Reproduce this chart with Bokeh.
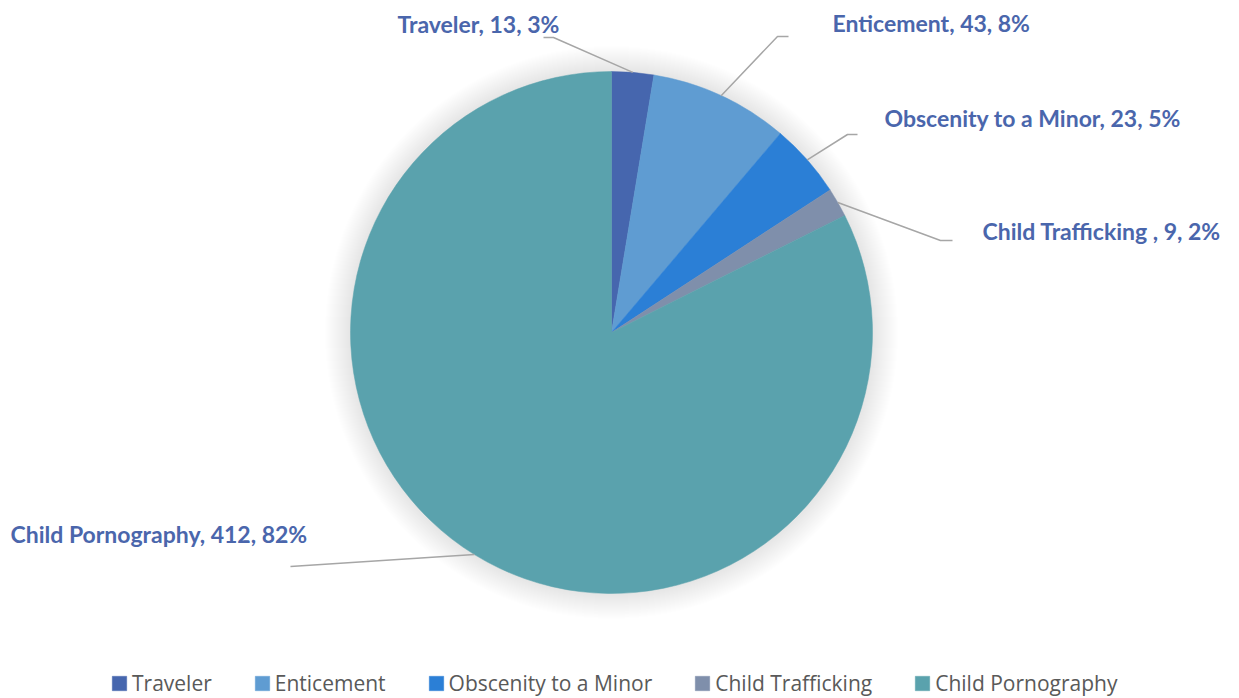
import numpy as np
from bokeh.plotting import figure
from bokeh.models import ColumnDataSource, Legend, LegendItem, Range1d
from bokeh.core.properties import value
from bokeh.embed import file_html
from bokeh.resources import INLINE

# ---- data ----
categories = ["Traveler", "Enticement", "Obscenity to a Minor", "Child Trafficking", "Child Pornography"]
label_names = ["Traveler", "Enticement", "Obscenity to a Minor", "Child Trafficking ", "Child Pornography"]
counts = [13, 43, 23, 9, 412]
percents = [3, 8, 5, 2, 82]
colors = ["#4666ae", "#5f9cd2", "#2b7fd6", "#7f8fab", "#5aa2ad"]

# ---- layout (reference pixel coordinates) ----
W, H = 1239, 698
def px(x): return x
def py(y): return H - y

cx, cy, R = px(611), py(332), 261
label_pos = [(397, 23), (832, 22), (884, 117), (982, 230), (10, 533)]
leader_knee = [(553, 37), (777, 36), (847, 134), (940, 240), (290, 566)]
leader_end = [(543, 37), (788, 36), (857, 134), (952, 240), (290, 566)]

total = sum(counts)
cum = np.cumsum([0] + counts)
start = np.pi / 2 - 2 * np.pi * cum[:-1] / total
end = np.pi / 2 - 2 * np.pi * cum[1:] / total
mid = (start + end) / 2

p = figure(width=W, height=H, x_range=Range1d(0, W), y_range=Range1d(0, H),
           output_backend="svg", toolbar_location=None, min_border=0,
           x_axis_type=None, y_axis_type=None)
p.grid.visible = False
p.outline_line_color = None
p.background_fill_color = "white"
p.border_fill_color = "white"

# soft shadow
for k in range(26, 0, -1):
    p.circle(x=cx, y=cy, radius=R + k, fill_color="black", fill_alpha=0.0055, line_color=None)

src = ColumnDataSource(dict(start=start, end=end, color=colors, cat=categories))
wr = p.wedge(x=cx, y=cy, radius=R, start_angle="start", end_angle="end", direction="clock",
             fill_color="color", line_color="color", line_width=0.5, source=src)

# leader lines
xs, ys = [], []
for i in range(len(counts)):
    sx = cx + R * np.cos(mid[i])
    sy = cy + R * np.sin(mid[i])
    xs.append([sx, px(leader_knee[i][0]), px(leader_end[i][0])])
    ys.append([sy, py(leader_knee[i][1]), py(leader_end[i][1])])
p.multi_line(xs=xs, ys=ys, line_color="#a6a6a6", line_width=1.5)

# data labels
texts = [f"{n}, {c}, {q}%" for n, c, q in zip(label_names, counts, percents)]
p.text(x=[px(a) for a, b in label_pos], y=[py(b) for a, b in label_pos], text=texts,
       text_font=value("Lato"), text_font_style="bold", text_font_size="23px",
       text_color="#4a66ac", text_baseline="middle", text_align="left")

legend = Legend(items=[LegendItem(label=categories[i], renderers=[wr], index=i) for i in range(len(categories))],
                orientation="horizontal", location=(110, 1), glyph_width=18, glyph_height=18,
                label_text_font="Open Sans", label_text_font_size="21px", label_text_color="#595959",
                spacing=41, label_standoff=4, padding=0, margin=0,
                border_line_alpha=0, background_fill_alpha=0)
p.add_layout(legend, "center")

open("out.html", "w").write(file_html(p, INLINE))
